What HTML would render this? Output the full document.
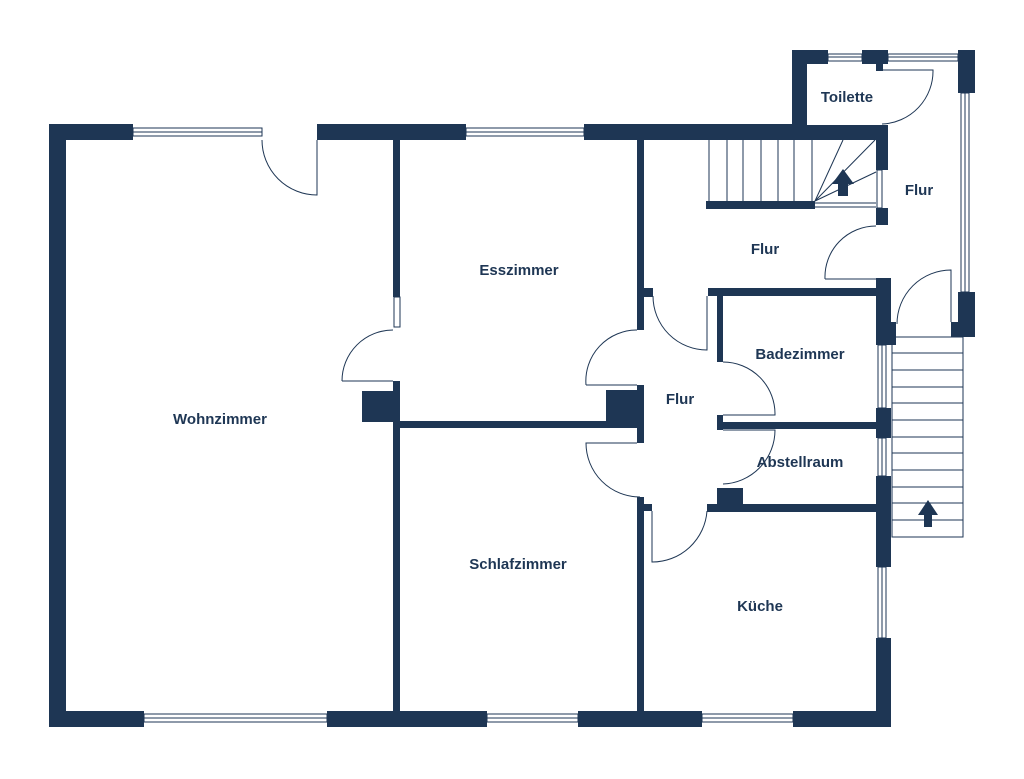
<!DOCTYPE html>
<html><head><meta charset="utf-8"><style>
html,body{margin:0;padding:0;background:#fff;}
svg{display:block}
text{font-family:"Liberation Sans",sans-serif;font-weight:bold;font-size:15px;fill:#1e3654;text-anchor:middle;dominant-baseline:middle}
</style></head><body>
<svg width="1024" height="779" viewBox="0 0 1024 779" xmlns="http://www.w3.org/2000/svg">
<g fill="#1e3654">
<rect x="49" y="124" width="17" height="603"/>
<rect x="49" y="124" width="84" height="16"/>
<rect x="317" y="124" width="149" height="16"/>
<rect x="584" y="124" width="223" height="16"/>
<rect x="792" y="50" width="15" height="90"/>
<rect x="792" y="50" width="36" height="14"/>
<rect x="862" y="50" width="26" height="14"/>
<rect x="876" y="62" width="7" height="9"/>
<rect x="958" y="50" width="17" height="43"/>
<rect x="958" y="292" width="17" height="45"/>
<rect x="951" y="322" width="24" height="15"/>
<rect x="807" y="125" width="81" height="15"/>
<rect x="876" y="125" width="12" height="45"/>
<rect x="876" y="208" width="12" height="17"/>
<rect x="876" y="278" width="15" height="67"/>
<rect x="876" y="322" width="20" height="23"/>
<rect x="876" y="408" width="15" height="30"/>
<rect x="876" y="476" width="15" height="91"/>
<rect x="876" y="638" width="15" height="89"/>
<rect x="49" y="711" width="95" height="16"/>
<rect x="327" y="711" width="160" height="16"/>
<rect x="578" y="711" width="124" height="16"/>
<rect x="793" y="711" width="98" height="16"/>
<rect x="393" y="140" width="7" height="157"/>
<rect x="393" y="381" width="7" height="331"/>
<rect x="362" y="391" width="31" height="31"/>
<rect x="400" y="421" width="237" height="7"/>
<rect x="606" y="390" width="31" height="32"/>
<rect x="637" y="140" width="7" height="190"/>
<rect x="644" y="288" width="9" height="9"/>
<rect x="637" y="385" width="7" height="58"/>
<rect x="637" y="497" width="7" height="215"/>
<rect x="644" y="504" width="8" height="7"/>
<rect x="708" y="288" width="168" height="8"/>
<rect x="717" y="288" width="6" height="74"/>
<rect x="717" y="415" width="6" height="15"/>
<rect x="717" y="422" width="159" height="7"/>
<rect x="707" y="504" width="169" height="8"/>
<rect x="717" y="488" width="26" height="16"/>
<rect x="706" y="201" width="109" height="8"/>
<polygon points="843,169 832,184 838,184 838,196 848,196 848,184 854,184"/>
<polygon points="928,500 918,515 924,515 924,527 932,527 932,515 938,515"/>
</g>
<g fill="none" stroke="#1e3654" stroke-width="1">
<rect x="133" y="128" width="129" height="8"/><line x1="133" y1="132" x2="262" y2="132"/>
<rect x="466" y="128" width="118" height="8"/><line x1="466" y1="132" x2="584" y2="132"/>
<rect x="828" y="54" width="34" height="7"/><line x1="828" y1="57" x2="862" y2="57"/>
<rect x="888" y="54" width="70" height="7"/><line x1="888" y1="57" x2="958" y2="57"/>
<rect x="144" y="714" width="183" height="8"/><line x1="144" y1="718" x2="327" y2="718"/>
<rect x="487" y="714" width="91" height="8"/><line x1="487" y1="718" x2="578" y2="718"/>
<rect x="702" y="714" width="91" height="8"/><line x1="702" y1="718" x2="793" y2="718"/>
<rect x="961" y="93" width="8" height="199"/><line x1="965" y1="93" x2="965" y2="292"/>
<rect x="394" y="297" width="6" height="30"/>
<rect x="877" y="170" width="5" height="38"/>
<rect x="878" y="345" width="8" height="63"/><line x1="882" y1="345" x2="882" y2="408"/>
<rect x="878" y="438" width="8" height="38"/><line x1="882" y1="438" x2="882" y2="476"/>
<rect x="878" y="567" width="8" height="71"/><line x1="882" y1="567" x2="882" y2="638"/>
<path d="M262,140 A55,55 0 0 0 317,195 L317,140"/>
<path d="M342,381 A51,51 0 0 1 393,330 M342,381 L393,381"/>
<path d="M586,385 A51,51 0 0 1 637,330 M586,385 L637,385"/>
<path d="M653,296 A54,54 0 0 0 707,350 L707,296"/>
<path d="M723,362 A52,52 0 0 1 775,415 L723,415"/>
<path d="M723,430 L775,430 A54,54 0 0 1 723,484"/>
<path d="M637,443 L586,443 A54,54 0 0 0 640,497"/>
<path d="M652,511 L652,562 A55,55 0 0 0 707,511"/>
<path d="M825,279 A51,51 0 0 1 876,226 M825,279 L876,279"/>
<path d="M882,70 L933,70 A53,53 0 0 1 882,124"/>
<path d="M951,322 L951,270 A54,54 0 0 0 897,324"/>
<line x1="709" y1="140" x2="709" y2="201"/>
<line x1="727" y1="140" x2="727" y2="201"/>
<line x1="743" y1="140" x2="743" y2="201"/>
<line x1="761" y1="140" x2="761" y2="201"/>
<line x1="778" y1="140" x2="778" y2="201"/>
<line x1="794" y1="140" x2="794" y2="201"/>
<line x1="812" y1="140" x2="812" y2="201"/>
<line x1="815" y1="201" x2="843" y2="140"/>
<line x1="815" y1="201" x2="875" y2="140"/>
<line x1="815" y1="201" x2="876" y2="172"/>
<line x1="815" y1="203" x2="876" y2="203"/>
<line x1="815" y1="207" x2="876" y2="207"/>
<rect x="892" y="337" width="71" height="200"/>
<line x1="892" y1="353" x2="963" y2="353"/>
<line x1="892" y1="370" x2="963" y2="370"/>
<line x1="892" y1="387" x2="963" y2="387"/>
<line x1="892" y1="403" x2="963" y2="403"/>
<line x1="892" y1="420" x2="963" y2="420"/>
<line x1="892" y1="437" x2="963" y2="437"/>
<line x1="892" y1="453" x2="963" y2="453"/>
<line x1="892" y1="470" x2="963" y2="470"/>
<line x1="892" y1="487" x2="963" y2="487"/>
<line x1="892" y1="503" x2="963" y2="503"/>
<line x1="892" y1="520" x2="963" y2="520"/>
</g>
<text x="847" y="98">Toilette</text>
<text x="919" y="191">Flur</text>
<text x="765" y="250">Flur</text>
<text x="519" y="271">Esszimmer</text>
<text x="220" y="420">Wohnzimmer</text>
<text x="800" y="355">Badezimmer</text>
<text x="680" y="400">Flur</text>
<text x="800" y="463">Abstellraum</text>
<text x="518" y="565">Schlafzimmer</text>
<text x="760" y="607">Küche</text>
</svg>
</body></html>
